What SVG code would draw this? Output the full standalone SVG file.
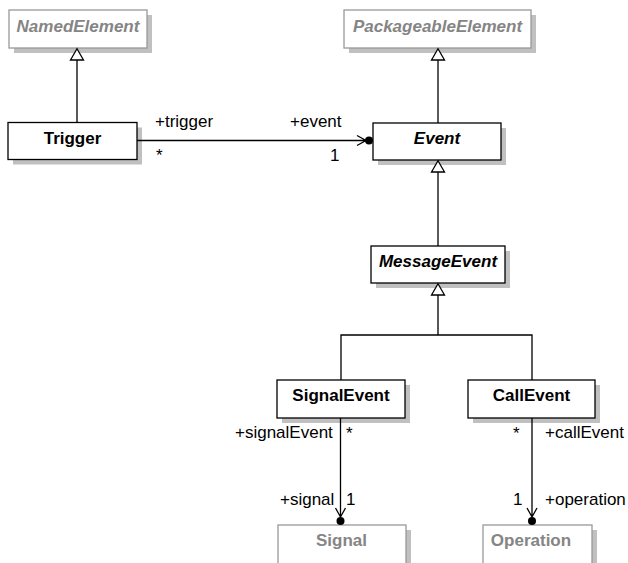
<svg xmlns="http://www.w3.org/2000/svg" width="628" height="563" viewBox="0 0 628 563">
<style>
.shadow{fill:#c0c0c0;stroke:none}
.box{fill:#fff;stroke:#000;stroke-width:1.3}
.gbox{fill:#fff;stroke:#999;stroke-width:1.3}
.name{font-family:"Liberation Sans",Arial,sans-serif;font-size:17px;font-weight:bold;text-anchor:middle;fill:#000}
.abs{font-style:italic}
.gray{fill:#858585}
.lbl{font-family:"Liberation Sans",Arial,sans-serif;font-size:17px;fill:#000}
.ln{fill:none;stroke:#000;stroke-width:1.3}
.tri{fill:#fff;stroke:#000;stroke-width:1.3}
.dot{fill:#000}
</style>
<rect width="628" height="563" fill="#fff"/>
<g id="NamedElement">
<rect class="shadow" x="14" y="15" width="138" height="38"/>
<rect class="gbox" x="9" y="10" width="138" height="38"/>
<text class="name abs gray" x="78" y="32">NamedElement</text>
</g>
<g id="PackageableElement">
<rect class="shadow" x="349" y="15" width="187" height="38"/>
<rect class="gbox" x="344" y="10" width="187" height="38"/>
<text class="name abs gray" x="437.5" y="32">PackageableElement</text>
</g>
<g id="Trigger">
<rect class="shadow" x="13" y="127.5" width="129" height="37"/>
<rect class="box" x="8" y="122.5" width="129" height="37"/>
<text class="name" x="72.5" y="143.5">Trigger</text>
</g>
<g id="Event">
<rect class="shadow" x="378" y="128" width="128" height="37"/>
<rect class="box" x="373" y="123" width="128" height="37"/>
<text class="name abs" x="437" y="143.5">Event</text>
</g>
<g id="MessageEvent">
<rect class="shadow" x="376" y="251" width="134" height="37"/>
<rect class="box" x="371" y="246" width="134" height="37"/>
<text class="name abs" x="438" y="266.5">MessageEvent</text>
</g>
<g id="SignalEvent">
<rect class="shadow" x="282" y="385" width="128" height="38"/>
<rect class="box" x="277" y="380" width="128" height="38"/>
<text class="name" x="341" y="400.5">SignalEvent</text>
</g>
<g id="CallEvent">
<rect class="shadow" x="473" y="385" width="127" height="38"/>
<rect class="box" x="468" y="380" width="127" height="38"/>
<text class="name" x="531.5" y="400.5">CallEvent</text>
</g>
<g id="Signal">
<rect class="shadow" x="283" y="530" width="128" height="45"/>
<rect class="gbox" x="278" y="525" width="128" height="45"/>
<text class="name gray" x="341.5" y="546">Signal</text>
</g>
<g id="Operation">
<rect class="shadow" x="488" y="530" width="109" height="45"/>
<rect class="gbox" x="483" y="525" width="109" height="45"/>
<text class="name gray" x="531" y="546">Operation</text>
</g>
<g id="connectors">
<path class="ln" d="M77,60 V122.5"/>
<polygon class="tri" points="77,48.7 70.5,60 83.5,60"/>
<path class="ln" d="M438,60 V123"/>
<polygon class="tri" points="438,48.7 431.5,60 444.5,60"/>
<path class="ln" d="M438,172 V246"/>
<polygon class="tri" points="438,160.7 431.5,172 444.5,172"/>
<path class="ln" d="M438,295 V335 M341,380 V335 H532 V380"/>
<polygon class="tri" points="438,283.7 431.5,295 444.5,295"/>
<path class="ln" d="M137,140.5 H366 M357,135.5 L366,140.5 L357,145.5"/>
<circle class="dot" cx="369" cy="140.5" r="4"/>
<path class="ln" d="M340.5,418 V517 M335.5,508 L340.5,517 L345.5,508"/>
<circle class="dot" cx="340.5" cy="521" r="4"/>
<path class="ln" d="M532,418 V517 M527,508 L532,517 L537,508"/>
<circle class="dot" cx="532" cy="521" r="4"/>
<text class="lbl" x="155" y="127">+trigger</text>
<text class="lbl" x="156" y="161">*</text>
<text class="lbl" x="290" y="127">+event</text>
<text class="lbl" x="330" y="161">1</text>
<text class="lbl" x="235" y="438">+signalEvent</text>
<text class="lbl" x="346" y="439">*</text>
<text class="lbl" x="280" y="505">+signal</text>
<text class="lbl" x="346" y="505">1</text>
<text class="lbl" x="513" y="439">*</text>
<text class="lbl" x="545" y="438">+callEvent</text>
<text class="lbl" x="513" y="505">1</text>
<text class="lbl" x="545" y="505">+operation</text>
</g>
</svg>
